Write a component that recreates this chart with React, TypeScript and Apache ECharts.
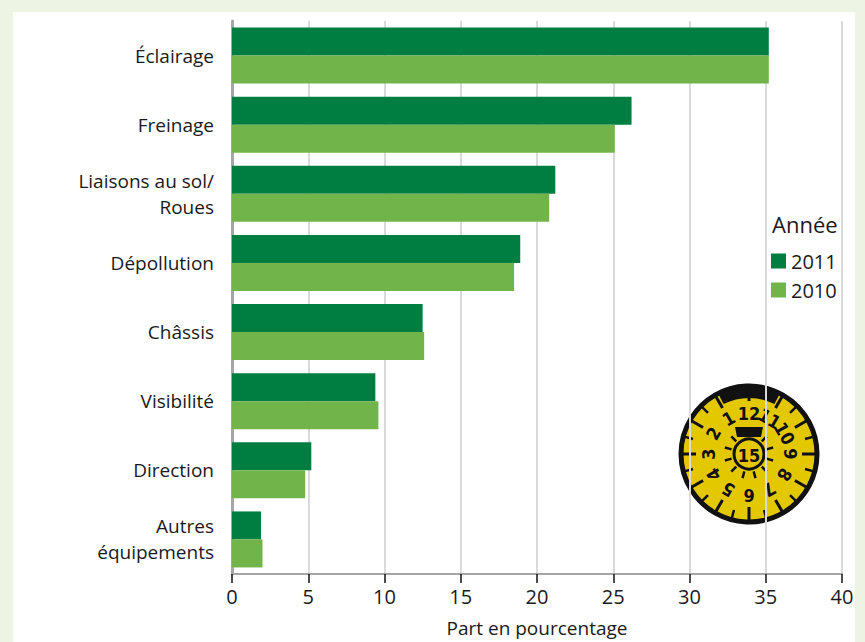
import React, { useEffect, useRef } from "react";
import * as echarts from "echarts";

const categories = [
  "Éclairage",
  "Freinage",
  "Liaisons au sol/\nRoues",
  "Dépollution",
  "Châssis",
  "Visibilité",
  "Direction",
  "Autres\néquipements",
];
const values2011 = [35.2, 26.2, 21.2, 18.9, 12.5, 9.4, 5.2, 1.9];
const values2010 = [35.2, 25.1, 20.8, 18.5, 12.6, 9.6, 4.8, 2.0];
const seriesNames = ["2011", "2010"];
const xTicks = { min: 0, max: 40, interval: 5 };
const xAxisName = "Part en pourcentage";
const legendTitle = "Année";
const badgeYear = "15";
const months = ["1", "2", "3", "4", "5", "6", "7", "8", "9", "10", "11", "12"];

const FONT = "Open Sans";
const DARK = "#007d40";
const LIGHT = "#70b44a";
const TXT = "#1a1a1a";

function buildBadge(cx: number, cy: number) {
  const R = 70;
  const els: any[] = [];
  const toRad = (d: number) => (d * Math.PI) / 180;
  els.push({
    type: "circle",
    shape: { cx, cy, r: R - 2 },
    style: { fill: "#e3c800", stroke: "#111", lineWidth: 5 },
  });
  els.push({
    type: "sector",
    shape: { cx, cy, r: R - 2, r0: 56, startAngle: toRad(-117), endAngle: toRad(-63) },
    style: { fill: "#111" },
  });
  months.forEach((m, i) => {
    const k = i + 1;
    const deg = -90 - k * 30;
    const a = toRad(deg);
    els.push({
      type: "line",
      shape: {
        x1: cx + Math.cos(a) * 53,
        y1: cy + Math.sin(a) * 53,
        x2: cx + Math.cos(a) * 68,
        y2: cy + Math.sin(a) * 68,
      },
      style: { stroke: "#111", lineWidth: 3 },
    });
    const b = toRad(deg + 15);
    els.push({
      type: "line",
      shape: {
        x1: cx + Math.cos(b) * 58,
        y1: cy + Math.sin(b) * 58,
        x2: cx + Math.cos(b) * 68,
        y2: cy + Math.sin(b) * 68,
      },
      style: { stroke: "#111", lineWidth: 2.5 },
    });
    const rT = 41;
    els.push({
      type: "text",
      x: cx + Math.cos(a) * rT,
      y: cy + Math.sin(a) * rT,
      rotation: -toRad(deg + 90),
      style: {
        text: m,
        fontFamily: "Liberation Sans Narrow, DejaVu Sans Condensed, sans-serif",
        fontSize: 18,
        fontWeight: "bold",
        fill: "#111",
        align: "center",
        verticalAlign: "middle",
      },
    });
  });
  for (let j = 0; j < 12; j++) {
    const a = toRad(j * 30 + 15);
    els.push({
      type: "line",
      shape: {
        x1: cx + Math.cos(a) * 18,
        y1: cy + Math.sin(a) * 18,
        x2: cx + Math.cos(a) * 25,
        y2: cy + Math.sin(a) * 25,
      },
      style: { stroke: "#111", lineWidth: 2.5 },
    });
  }
  els.push({
    type: "polygon",
    shape: {
      points: [
        [cx - 12, cy - 17],
        [cx - 14, cy - 27],
        [cx + 14, cy - 27],
        [cx + 12, cy - 17],
      ],
    },
    style: { fill: "#111" },
  });
  els.push({
    type: "circle",
    shape: { cx, cy, r: 15 },
    style: { fill: "#e3c800", stroke: "#111", lineWidth: 3 },
  });
  els.push({
    type: "text",
    x: cx,
    y: cy + 1,
    style: {
      text: badgeYear,
      fontFamily: "Liberation Sans Narrow, DejaVu Sans Condensed, sans-serif",
      fontSize: 18,
      fontWeight: "bold",
      fill: "#111",
      align: "center",
      verticalAlign: "middle",
    },
  });
  return { type: "group", children: els };
}

export default function App() {
  const ref = useRef<HTMLDivElement>(null);
  useEffect(() => {
    if (!ref.current) return;
    const chart = echarts.init(ref.current, undefined, { renderer: "svg" });
    chart.setOption({
      animation: false,
      backgroundColor: "transparent",
      textStyle: { fontFamily: FONT },
      grid: { left: 232, right: 23, top: 21, bottom: 67 },
      legend: {
        orient: "vertical",
        left: 771,
        top: 251,
        padding: 0,
        itemWidth: 15,
        itemHeight: 15,
        itemGap: 9,
        icon: "rect",
        data: seriesNames,
        textStyle: { fontFamily: FONT, fontSize: 20, color: TXT },
      },
      xAxis: {
        type: "value",
        min: xTicks.min,
        max: xTicks.max,
        interval: xTicks.interval,
        name: xAxisName,
        nameLocation: "middle",
        nameGap: 44,
        nameTextStyle: { fontFamily: FONT, fontSize: 19, color: TXT },
        axisLine: { show: true, lineStyle: { color: "#a6a6a6", width: 2 } },
        axisTick: { show: true, length: 9, lineStyle: { color: "#111", width: 1.5 } },
        axisLabel: { fontFamily: FONT, fontSize: 20, color: TXT, margin: 12 },
        splitLine: { show: true, lineStyle: { color: "#dadada", width: 2 } },
      },
      yAxis: {
        type: "category",
        inverse: true,
        data: categories,
        axisLine: { show: true, lineStyle: { color: "#a6a6a6", width: 3 } },
        axisTick: { show: false },
        axisLabel: {
          fontFamily: FONT,
          fontSize: 19,
          color: TXT,
          margin: 18,
          lineHeight: 26,
          align: "right",
        },
      },
      series: [
        {
          name: seriesNames[0],
          type: "bar",
          data: values2011,
          itemStyle: { color: DARK },
          barGap: "0%",
          barCategoryGap: "19%",
        },
        {
          name: seriesNames[1],
          type: "bar",
          data: values2010,
          itemStyle: { color: LIGHT },
          barGap: "0%",
          barCategoryGap: "19%",
        },
      ],
      graphic: [
        {
          type: "text",
          left: 772,
          top: 213,
          style: { text: legendTitle, fontFamily: FONT, fontSize: 22, fill: TXT },
        },
        buildBadge(749, 454),
      ],
    });
    return () => chart.dispose();
  }, []);
  return (
    <div style={{ position: "fixed", left: 0, top: 0, width: 865, height: 642, background: "#edf4e4" }}>
      <div style={{ position: "absolute", left: 13, top: 12, width: 842, height: 630, background: "#ffffff" }} />
      <div ref={ref} style={{ position: "absolute", left: 0, top: 0, width: 865, height: 642 }} />
    </div>
  );
}
